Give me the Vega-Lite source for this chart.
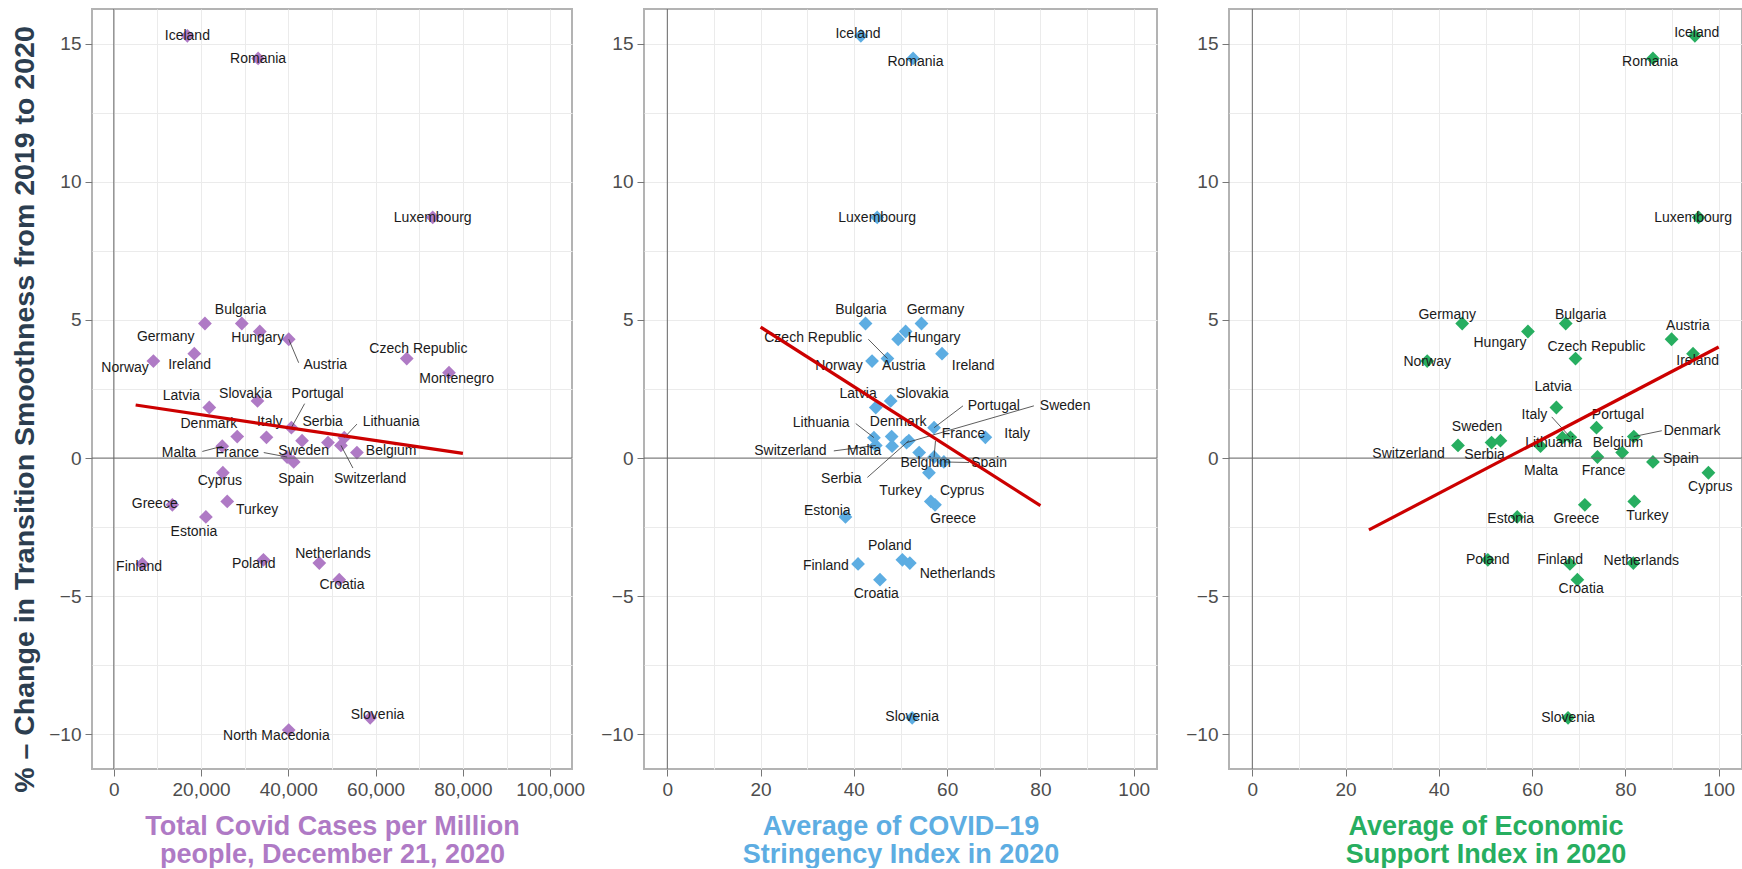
{
  "$schema": "https://vega.github.io/schema/vega-lite/v6.json",
  "padding": {"left": 9, "top": 7, "right": 0, "bottom": 0},
  "bounds": "flush",
  "spacing": 72,
  "datasets": {
    "zero": [{"v": 0}],
    "p1": [
      {"country": "Iceland", "cases": 16850, "change": 15.28, "lx": 16850, "ly": 15.27},
      {"country": "Romania", "cases": 33070, "change": 14.46, "lx": 33070, "ly": 14.44},
      {"country": "Luxembourg", "cases": 73080, "change": 8.71, "lx": 73080, "ly": 8.69},
      {"country": "Bulgaria", "cases": 29330, "change": 4.87, "lx": 29030, "ly": 5.36},
      {"country": "Germany", "cases": 20880, "change": 4.87, "lx": 11890, "ly": 4.38},
      {"country": "Hungary", "cases": 33450, "change": 4.58, "lx": 32990, "ly": 4.35},
      {"country": "Austria", "cases": 40080, "change": 4.30, "lx": 48460, "ly": 3.37, "sx": 42360, "sy": 3.45},
      {"country": "Ireland", "cases": 18440, "change": 3.78, "lx": 17370, "ly": 3.37},
      {"country": "Norway", "cases": 9070, "change": 3.51, "lx": 2580, "ly": 3.27},
      {"country": "Czech Republic", "cases": 67130, "change": 3.60, "lx": 69800, "ly": 3.96},
      {"country": "Montenegro", "cases": 76810, "change": 3.09, "lx": 78570, "ly": 2.85},
      {"country": "Latvia", "cases": 21880, "change": 1.83, "lx": 15480, "ly": 2.25},
      {"country": "Slovakia", "cases": 32920, "change": 2.07, "lx": 30180, "ly": 2.33},
      {"country": "Portugal", "cases": 40690, "change": 1.10, "lx": 46710, "ly": 2.31, "sx": 43730, "sy": 1.97},
      {"country": "Denmark", "cases": 28280, "change": 0.78, "lx": 21790, "ly": 1.23},
      {"country": "Italy", "cases": 34980, "change": 0.75, "lx": 35730, "ly": 1.29},
      {"country": "Serbia", "cases": 43140, "change": 0.63, "lx": 47850, "ly": 1.29},
      {"country": "Lithuania", "cases": 52810, "change": 0.74, "lx": 63550, "ly": 1.29, "sx": 55710, "sy": 1.23},
      {"country": "Sweden", "cases": 49080, "change": 0.56, "lx": 43500, "ly": 0.26},
      {"country": "Switzerland", "cases": 52050, "change": 0.46, "lx": 58750, "ly": -0.74, "sx": 54790, "sy": -0.36},
      {"country": "Belgium", "cases": 55710, "change": 0.20, "lx": 63550, "ly": 0.26},
      {"country": "Malta", "cases": 24850, "change": 0.43, "lx": 14930, "ly": 0.20, "sx": 20280, "sy": 0.24},
      {"country": "France", "cases": 39710, "change": 0.04, "lx": 28280, "ly": 0.20, "sx": 34360, "sy": 0.20},
      {"country": "Spain", "cases": 41220, "change": -0.14, "lx": 41770, "ly": -0.76},
      {"country": "Cyprus", "cases": 24990, "change": -0.53, "lx": 24300, "ly": -0.84},
      {"country": "Greece", "cases": 13410, "change": -1.69, "lx": 9370, "ly": -1.66},
      {"country": "Turkey", "cases": 25990, "change": -1.57, "lx": 32850, "ly": -1.88},
      {"country": "Estonia", "cases": 21100, "change": -2.13, "lx": 18360, "ly": -2.66},
      {"country": "Finland", "cases": 6550, "change": -3.83, "lx": 5780, "ly": -3.95},
      {"country": "Poland", "cases": 34290, "change": -3.68, "lx": 32070, "ly": -3.85},
      {"country": "Netherlands", "cases": 47090, "change": -3.80, "lx": 50220, "ly": -3.47},
      {"country": "Croatia", "cases": 51660, "change": -4.40, "lx": 52280, "ly": -4.61},
      {"country": "Slovenia", "cases": 58750, "change": -9.40, "lx": 60420, "ly": -9.30},
      {"country": "North Macedonia", "cases": 40080, "change": -9.84, "lx": 37260, "ly": -10.06}
    ],
    "fit1": [{"cases": 5000, "change": 1.92}, {"cases": 80000, "change": 0.17}],
    "p2": [
      {"country": "Iceland", "idx": 41.5, "change": 15.28, "lx": 40.9, "ly": 15.34},
      {"country": "Romania", "idx": 52.7, "change": 14.46, "lx": 53.2, "ly": 14.34},
      {"country": "Luxembourg", "idx": 45.0, "change": 8.71, "lx": 45.0, "ly": 8.69},
      {"country": "Bulgaria", "idx": 42.5, "change": 4.87, "lx": 41.5, "ly": 5.36},
      {"country": "Germany", "idx": 54.5, "change": 4.87, "lx": 57.5, "ly": 5.36},
      {"country": "Czech Republic", "idx": 47.2, "change": 3.60, "lx": 31.3, "ly": 4.33, "sx": 43.1, "sy": 4.30},
      {"country": "Hungary", "idx": 51.1, "change": 4.58, "lx": 57.2, "ly": 4.33},
      {"country": "Norway", "idx": 43.9, "change": 3.51, "lx": 36.8, "ly": 3.33},
      {"country": "Austria", "idx": 49.5, "change": 4.30, "lx": 50.7, "ly": 3.33},
      {"country": "Ireland", "idx": 58.9, "change": 3.78, "lx": 65.6, "ly": 3.33},
      {"country": "Latvia", "idx": 44.7, "change": 1.83, "lx": 40.9, "ly": 2.31},
      {"country": "Slovakia", "idx": 47.9, "change": 2.07, "lx": 54.7, "ly": 2.33},
      {"country": "Portugal", "idx": 57.2, "change": 1.10, "lx": 70.0, "ly": 1.89, "sx": 63.4, "sy": 1.89},
      {"country": "Sweden", "idx": 51.3, "change": 0.56, "lx": 85.3, "ly": 1.89, "sx": 78.6, "sy": 1.89},
      {"country": "Lithuania", "idx": 44.3, "change": 0.74, "lx": 33.0, "ly": 1.26, "sx": 40.4, "sy": 1.25},
      {"country": "Denmark", "idx": 48.1, "change": 0.78, "lx": 49.5, "ly": 1.29},
      {"country": "France", "idx": 57.2, "change": 0.04, "lx": 63.5, "ly": 0.87, "sx": 57.5, "sy": 0.62},
      {"country": "Italy", "idx": 68.2, "change": 0.75, "lx": 75.0, "ly": 0.87},
      {"country": "Switzerland", "idx": 44.7, "change": 0.46, "lx": 26.4, "ly": 0.26, "sx": 35.7, "sy": 0.26},
      {"country": "Malta", "idx": 48.2, "change": 0.43, "lx": 42.2, "ly": 0.26},
      {"country": "Belgium", "idx": 54.0, "change": 0.20, "lx": 55.4, "ly": -0.16},
      {"country": "Spain", "idx": 59.3, "change": -0.14, "lx": 69.0, "ly": -0.16, "sx": 64.7, "sy": -0.16},
      {"country": "Serbia", "idx": 51.8, "change": 0.63, "lx": 37.3, "ly": -0.76, "sx": 42.9, "sy": -0.70},
      {"country": "Turkey", "idx": 56.5, "change": -1.57, "lx": 50.0, "ly": -1.18},
      {"country": "Cyprus", "idx": 56.1, "change": -0.53, "lx": 63.2, "ly": -1.18},
      {"country": "Estonia", "idx": 38.2, "change": -2.13, "lx": 34.3, "ly": -1.93},
      {"country": "Greece", "idx": 57.4, "change": -1.69, "lx": 61.3, "ly": -2.20},
      {"country": "Poland", "idx": 50.4, "change": -3.68, "lx": 47.7, "ly": -3.17},
      {"country": "Finland", "idx": 40.9, "change": -3.83, "lx": 34.0, "ly": -3.89},
      {"country": "Netherlands", "idx": 52.0, "change": -3.80, "lx": 62.2, "ly": -4.19},
      {"country": "Croatia", "idx": 45.6, "change": -4.40, "lx": 44.8, "ly": -4.91},
      {"country": "Slovenia", "idx": 52.5, "change": -9.40, "lx": 52.5, "ly": -9.37}
    ],
    "fit2": [{"idx": 20, "change": 4.74}, {"idx": 80, "change": -1.72}],
    "p3": [
      {"country": "Iceland", "idx": 94.9, "change": 15.28, "lx": 95.3, "ly": 15.37},
      {"country": "Romania", "idx": 85.9, "change": 14.46, "lx": 85.3, "ly": 14.34},
      {"country": "Luxembourg", "idx": 95.7, "change": 8.71, "lx": 94.5, "ly": 8.69},
      {"country": "Germany", "idx": 45.0, "change": 4.87, "lx": 41.8, "ly": 5.18},
      {"country": "Bulgaria", "idx": 67.2, "change": 4.87, "lx": 70.4, "ly": 5.18},
      {"country": "Austria", "idx": 89.9, "change": 4.30, "lx": 93.4, "ly": 4.78},
      {"country": "Hungary", "idx": 59.1, "change": 4.58, "lx": 53.1, "ly": 4.17},
      {"country": "Czech Republic", "idx": 69.3, "change": 3.60, "lx": 73.8, "ly": 4.02},
      {"country": "Norway", "idx": 37.5, "change": 3.51, "lx": 37.5, "ly": 3.49},
      {"country": "Ireland", "idx": 94.5, "change": 3.78, "lx": 95.5, "ly": 3.51},
      {"country": "Latvia", "idx": 65.2, "change": 1.83, "lx": 64.5, "ly": 2.57},
      {"country": "Italy", "idx": 68.2, "change": 0.75, "lx": 60.5, "ly": 1.55, "sx": 64.2, "sy": 1.49},
      {"country": "Lithuania", "idx": 66.5, "change": 0.74, "lx": 64.6, "ly": 0.54},
      {"country": "Portugal", "idx": 73.8, "change": 1.10, "lx": 78.4, "ly": 1.56},
      {"country": "Denmark", "idx": 81.8, "change": 0.78, "lx": 94.3, "ly": 0.99, "sx": 87.8, "sy": 0.99},
      {"country": "Sweden", "idx": 51.3, "change": 0.56, "lx": 48.2, "ly": 1.13},
      {"country": "Serbia", "idx": 53.2, "change": 0.63, "lx": 49.8, "ly": 0.12},
      {"country": "Switzerland", "idx": 44.1, "change": 0.46, "lx": 33.5, "ly": 0.14},
      {"country": "Malta", "idx": 61.8, "change": 0.43, "lx": 61.9, "ly": -0.48},
      {"country": "Belgium", "idx": 79.3, "change": 0.20, "lx": 78.4, "ly": 0.54},
      {"country": "France", "idx": 74.0, "change": 0.04, "lx": 75.3, "ly": -0.48},
      {"country": "Spain", "idx": 85.9, "change": -0.14, "lx": 91.9, "ly": -0.04},
      {"country": "Cyprus", "idx": 97.8, "change": -0.53, "lx": 98.2, "ly": -1.04},
      {"country": "Estonia", "idx": 56.8, "change": -2.13, "lx": 55.4, "ly": -2.20},
      {"country": "Greece", "idx": 71.3, "change": -1.69, "lx": 69.5, "ly": -2.20},
      {"country": "Turkey", "idx": 81.9, "change": -1.57, "lx": 84.7, "ly": -2.08},
      {"country": "Poland", "idx": 50.5, "change": -3.68, "lx": 50.5, "ly": -3.68},
      {"country": "Finland", "idx": 68.1, "change": -3.83, "lx": 66.0, "ly": -3.68},
      {"country": "Netherlands", "idx": 81.7, "change": -3.80, "lx": 83.4, "ly": -3.73},
      {"country": "Croatia", "idx": 69.7, "change": -4.40, "lx": 70.5, "ly": -4.73},
      {"country": "Slovenia", "idx": 67.7, "change": -9.40, "lx": 67.7, "ly": -9.40}
    ],
    "fit3": [{"idx": 25, "change": -2.60}, {"idx": 100, "change": 4.02}]
  },
  "hconcat": [
    {
      "width": 480,
      "height": 760,
      "layer": [
        {
          "data": {"name": "p1"},
          "mark": {"type": "point", "shape": "diamond", "filled": true, "size": 190, "color": "#AF7AC5", "opacity": 1},
          "encoding": {
            "x": {"field": "cases", "type": "quantitative", "title": ["Total Covid Cases per Million", "\u00a0people, December 21, 2020"],
              "scale": {"domain": [-5000, 105000], "nice": false, "zero": false},
              "axis": {"values": [0, 10000, 20000, 30000, 40000, 50000, 60000, 70000, 80000, 90000, 100000],
                "labelExpr": "datum.value % 20000 === 0 ? format(datum.value, ',') : ''",
                "tickOpacity": {"condition": {"test": "datum.value % 20000 === 0", "value": 1}, "value": 0},
                "titleColor": "#AF7AC5"}},
            "y": {"field": "change", "type": "quantitative", "title": "% \u2013 Change in Transition Smoothness from 2019 to 2020",
              "scale": {"domain": [-11.25, 16.25], "nice": false, "zero": false},
              "axis": {"values": [-10, -7.5, -5, -2.5, 0, 2.5, 5, 7.5, 10, 12.5, 15],
                "labelExpr": "datum.value % 5 === 0 ? format(datum.value, 'd') : ''",
                "tickOpacity": {"condition": {"test": "datum.value % 5 === 0", "value": 1}, "value": 0},
                "titleColor": "#2C3E50", "titlePadding": 9, "titleFontSize": 28.5, "titleY": 400}}
          }
        },
        {
          "data": {"name": "zero"},
          "mark": {"type": "rule", "color": "#666666", "strokeWidth": 1},
          "encoding": {"x": {"field": "v", "type": "quantitative", "title": ["Total Covid Cases per Million", "\u00a0people, December 21, 2020"], "scale": {"domain": [-5000, 105000], "nice": false, "zero": false}}}
        },
        {
          "data": {"name": "zero"},
          "mark": {"type": "rule", "color": "#666666", "strokeWidth": 1},
          "encoding": {"y": {"field": "v", "type": "quantitative", "title": "% \u2013 Change in Transition Smoothness from 2019 to 2020", "scale": {"domain": [-11.25, 16.25], "nice": false, "zero": false}}}
        },
        {
          "data": {"name": "p1"},
          "transform": [{"filter": "isValid(datum.sx)"}],
          "mark": {"type": "rule", "color": "#333333", "strokeWidth": 0.8},
          "encoding": {
            "x": {"field": "cases", "type": "quantitative", "title": ["Total Covid Cases per Million", "\u00a0people, December 21, 2020"], "scale": {"domain": [-5000, 105000], "nice": false, "zero": false}},
            "x2": {"field": "sx"},
            "y": {"field": "change", "type": "quantitative", "title": "% \u2013 Change in Transition Smoothness from 2019 to 2020", "scale": {"domain": [-11.25, 16.25], "nice": false, "zero": false}},
            "y2": {"field": "sy"}
          }
        },
        {
          "data": {"name": "p1"},
          "mark": {"type": "text", "font": "Liberation Sans", "fontSize": 14, "color": "#1a1a1a", "align": "center", "baseline": "middle"},
          "encoding": {
            "x": {"field": "lx", "type": "quantitative", "title": ["Total Covid Cases per Million", "\u00a0people, December 21, 2020"], "scale": {"domain": [-5000, 105000], "nice": false, "zero": false}},
            "y": {"field": "ly", "type": "quantitative", "title": "% \u2013 Change in Transition Smoothness from 2019 to 2020", "scale": {"domain": [-11.25, 16.25], "nice": false, "zero": false}},
            "text": {"field": "country"}
          }
        },
        {
          "data": {"name": "fit1"},
          "mark": {"type": "line", "color": "#CC0000", "strokeWidth": 3.2},
          "encoding": {
            "x": {"field": "cases", "type": "quantitative", "title": ["Total Covid Cases per Million", "\u00a0people, December 21, 2020"], "scale": {"domain": [-5000, 105000], "nice": false, "zero": false}},
            "y": {"field": "change", "type": "quantitative", "title": "% \u2013 Change in Transition Smoothness from 2019 to 2020", "scale": {"domain": [-11.25, 16.25], "nice": false, "zero": false}}
          }
        }
      ]
    },
    {
      "width": 513,
      "height": 760,
      "layer": [
        {
          "data": {"name": "p2"},
          "mark": {"type": "point", "shape": "diamond", "filled": true, "size": 190, "color": "#5DADE2", "opacity": 1},
          "encoding": {
            "x": {"field": "idx", "type": "quantitative", "title": ["Average of COVID\u201319", "\u00a0Stringency Index in 2020"],
              "scale": {"domain": [-5, 105], "nice": false, "zero": false},
              "axis": {"values": [0, 10, 20, 30, 40, 50, 60, 70, 80, 90, 100],
                "labelExpr": "datum.value % 20 === 0 ? format(datum.value, 'd') : ''",
                "tickOpacity": {"condition": {"test": "datum.value % 20 === 0", "value": 1}, "value": 0},
                "titleColor": "#5DADE2"}},
            "y": {"field": "change", "type": "quantitative", "title": null,
              "scale": {"domain": [-11.25, 16.25], "nice": false, "zero": false},
              "axis": {"values": [-10, -7.5, -5, -2.5, 0, 2.5, 5, 7.5, 10, 12.5, 15],
                "labelExpr": "datum.value % 5 === 0 ? format(datum.value, 'd') : ''",
                "tickOpacity": {"condition": {"test": "datum.value % 5 === 0", "value": 1}, "value": 0}}}
          }
        },
        {
          "data": {"name": "zero"},
          "mark": {"type": "rule", "color": "#666666", "strokeWidth": 1},
          "encoding": {"x": {"field": "v", "type": "quantitative", "title": ["Average of COVID\u201319", "\u00a0Stringency Index in 2020"], "scale": {"domain": [-5, 105], "nice": false, "zero": false}}}
        },
        {
          "data": {"name": "zero"},
          "mark": {"type": "rule", "color": "#666666", "strokeWidth": 1},
          "encoding": {"y": {"field": "v", "type": "quantitative", "title": null, "scale": {"domain": [-11.25, 16.25], "nice": false, "zero": false}}}
        },
        {
          "data": {"name": "p2"},
          "transform": [{"filter": "isValid(datum.sx)"}],
          "mark": {"type": "rule", "color": "#333333", "strokeWidth": 0.8},
          "encoding": {
            "x": {"field": "idx", "type": "quantitative", "title": ["Average of COVID\u201319", "\u00a0Stringency Index in 2020"], "scale": {"domain": [-5, 105], "nice": false, "zero": false}},
            "x2": {"field": "sx"},
            "y": {"field": "change", "type": "quantitative", "title": null, "scale": {"domain": [-11.25, 16.25], "nice": false, "zero": false}},
            "y2": {"field": "sy"}
          }
        },
        {
          "data": {"name": "p2"},
          "mark": {"type": "text", "font": "Liberation Sans", "fontSize": 14, "color": "#1a1a1a", "align": "center", "baseline": "middle"},
          "encoding": {
            "x": {"field": "lx", "type": "quantitative", "title": ["Average of COVID\u201319", "\u00a0Stringency Index in 2020"], "scale": {"domain": [-5, 105], "nice": false, "zero": false}},
            "y": {"field": "ly", "type": "quantitative", "title": null, "scale": {"domain": [-11.25, 16.25], "nice": false, "zero": false}},
            "text": {"field": "country"}
          }
        },
        {
          "data": {"name": "fit2"},
          "mark": {"type": "line", "color": "#CC0000", "strokeWidth": 3.2},
          "encoding": {
            "x": {"field": "idx", "type": "quantitative", "title": ["Average of COVID\u201319", "\u00a0Stringency Index in 2020"], "scale": {"domain": [-5, 105], "nice": false, "zero": false}},
            "y": {"field": "change", "type": "quantitative", "title": null, "scale": {"domain": [-11.25, 16.25], "nice": false, "zero": false}}
          }
        }
      ]
    },
    {
      "width": 513,
      "height": 760,
      "layer": [
        {
          "data": {"name": "p3"},
          "mark": {"type": "point", "shape": "diamond", "filled": true, "size": 190, "color": "#27AE60", "opacity": 1},
          "encoding": {
            "x": {"field": "idx", "type": "quantitative", "title": ["Average of Economic", "\u00a0Support Index in 2020"],
              "scale": {"domain": [-5, 105], "nice": false, "zero": false},
              "axis": {"values": [0, 10, 20, 30, 40, 50, 60, 70, 80, 90, 100],
                "labelExpr": "datum.value % 20 === 0 ? format(datum.value, 'd') : ''",
                "tickOpacity": {"condition": {"test": "datum.value % 20 === 0", "value": 1}, "value": 0},
                "titleColor": "#27AE60"}},
            "y": {"field": "change", "type": "quantitative", "title": null,
              "scale": {"domain": [-11.25, 16.25], "nice": false, "zero": false},
              "axis": {"values": [-10, -7.5, -5, -2.5, 0, 2.5, 5, 7.5, 10, 12.5, 15],
                "labelExpr": "datum.value % 5 === 0 ? format(datum.value, 'd') : ''",
                "tickOpacity": {"condition": {"test": "datum.value % 5 === 0", "value": 1}, "value": 0}}}
          }
        },
        {
          "data": {"name": "zero"},
          "mark": {"type": "rule", "color": "#666666", "strokeWidth": 1},
          "encoding": {"x": {"field": "v", "type": "quantitative", "title": ["Average of Economic", "\u00a0Support Index in 2020"], "scale": {"domain": [-5, 105], "nice": false, "zero": false}}}
        },
        {
          "data": {"name": "zero"},
          "mark": {"type": "rule", "color": "#666666", "strokeWidth": 1},
          "encoding": {"y": {"field": "v", "type": "quantitative", "title": null, "scale": {"domain": [-11.25, 16.25], "nice": false, "zero": false}}}
        },
        {
          "data": {"name": "p3"},
          "transform": [{"filter": "isValid(datum.sx)"}],
          "mark": {"type": "rule", "color": "#333333", "strokeWidth": 0.8},
          "encoding": {
            "x": {"field": "idx", "type": "quantitative", "title": ["Average of Economic", "\u00a0Support Index in 2020"], "scale": {"domain": [-5, 105], "nice": false, "zero": false}},
            "x2": {"field": "sx"},
            "y": {"field": "change", "type": "quantitative", "title": null, "scale": {"domain": [-11.25, 16.25], "nice": false, "zero": false}},
            "y2": {"field": "sy"}
          }
        },
        {
          "data": {"name": "p3"},
          "mark": {"type": "text", "font": "Liberation Sans", "fontSize": 14, "color": "#1a1a1a", "align": "center", "baseline": "middle"},
          "encoding": {
            "x": {"field": "lx", "type": "quantitative", "title": ["Average of Economic", "\u00a0Support Index in 2020"], "scale": {"domain": [-5, 105], "nice": false, "zero": false}},
            "y": {"field": "ly", "type": "quantitative", "title": null, "scale": {"domain": [-11.25, 16.25], "nice": false, "zero": false}},
            "text": {"field": "country"}
          }
        },
        {
          "data": {"name": "fit3"},
          "mark": {"type": "line", "color": "#CC0000", "strokeWidth": 3.2},
          "encoding": {
            "x": {"field": "idx", "type": "quantitative", "title": ["Average of Economic", "\u00a0Support Index in 2020"], "scale": {"domain": [-5, 105], "nice": false, "zero": false}},
            "y": {"field": "change", "type": "quantitative", "title": null, "scale": {"domain": [-11.25, 16.25], "nice": false, "zero": false}}
          }
        }
      ]
    }
  ],
  "config": {
    "view": {"stroke": "#b3b3b3", "strokeWidth": 2},
    "axis": {
      "domain": false,
      "labelFont": "Liberation Sans",
      "labelFontSize": 19,
      "labelColor": "#4d4d4d",
      "labelPadding": 4,
      "labelOverlap": false,
      "labelFlush": false,
      "tickSize": 7,
      "tickColor": "#777777",
      "gridColor": "#ebebeb",
      "gridWidth": 1,
      "titleFont": "Liberation Sans",
      "titleFontWeight": "bold",
      "titleFontSize": 27,
      "titleLineHeight": 28
    },
    "axisX": {"titlePadding": 14}
  }
}
